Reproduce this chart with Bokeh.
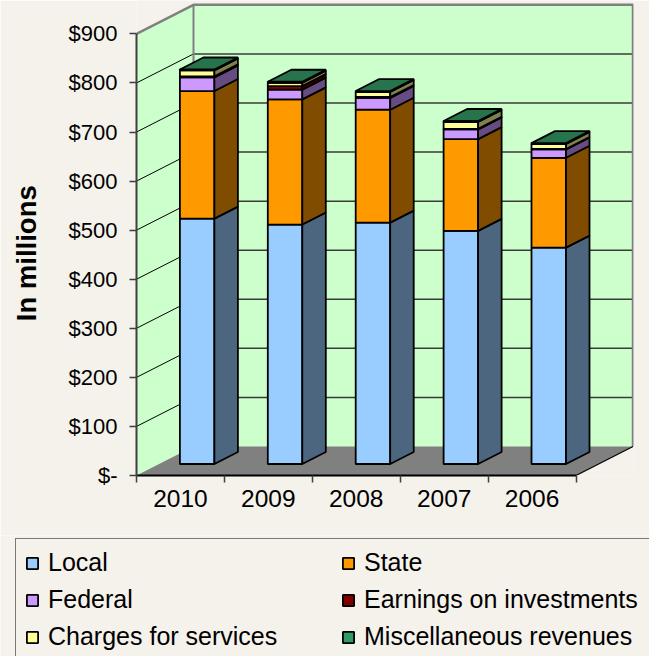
from bokeh.plotting import figure
from bokeh.models import Range1d, FixedTicker, Legend, LegendItem
from bokeh.layouts import column
from bokeh.embed import file_html
from bokeh.resources import INLINE

# ---------------- data (in millions of dollars) ----------------
years = ["2010", "2009", "2008", "2007", "2006"]
local = [500, 488, 492, 475, 441]
state = [260, 255, 230, 187, 183]
federal = [28, 20, 24, 20, 17]
earnings = [2, 7, 2, 1, 1]
charges = [12, 7, 10, 14, 10]
misc = [2, 2, 2, 2, 2]

series_names = ["Local", "State", "Federal", "Earnings on investments",
                "Charges for services", "Miscellaneous revenues"]
series_values = [local, state, federal, earnings, charges, misc]
front_colors = ["#99CCFF", "#FF9900", "#CC99FF", "#800000", "#FFFF99", "#339966"]
side_colors = ["#4C6680", "#804C00", "#664C80", "#400000", "#80804C", "#1A4C33"]
top_color = "#26734C"

y_ticks = [0, 100, 200, 300, 400, 500, 600, 700, 800, 900]
y_tick_labels = ["$-", "$100", "$200", "$300", "$400", "$500", "$600", "$700", "$800", "$900"]

# ---------------- layout constants ----------------
BG = "#F5F1EB"
FONT = "Liberation Sans"
W_TOTAL = 649
CHART_H = 535
LEGEND_AREA_H = 656 - CHART_H
PX_CAT = 87.9          # pixels per category
PX_UNIT = 0.4907       # pixels per million
FRAME_W, FRAME_H = 497, 475
FRAME_LEFT = 136
N = len(years)
YMAX = y_ticks[-1]
DX = 57 / PX_CAT       # depth offset of the walls
DY = 29 / PX_UNIT
BAR_OFF = 43.4 / PX_CAT
BAR_W = 34.5 / PX_CAT
BAR_BASE = 11.5 / PX_UNIT
BAR_DX = 23.5 / PX_CAT
BAR_DY = 12 / PX_UNIT
LW = 1.8

p = figure(width=W_TOTAL, height=CHART_H, frame_width=FRAME_W, frame_height=FRAME_H,
           x_range=Range1d(0, FRAME_W / PX_CAT), y_range=Range1d(0, FRAME_H / PX_UNIT),
           min_border_left=FRAME_LEFT, min_border_right=W_TOTAL - FRAME_LEFT - FRAME_W,
           min_border_top=0, min_border_bottom=CHART_H - FRAME_H,
           output_backend="svg", toolbar_location=None,
           background_fill_color=BG, border_fill_color=BG, outline_line_color=None)
p.xgrid.visible = False
p.ygrid.visible = False

# ---------------- walls and floor ----------------
p.patch([0, DX, DX, 0], [0, DY, YMAX + DY, YMAX], fill_color="#CCFFCC", line_color=None)
p.patch([DX, N + DX, N + DX, DX], [DY, DY, YMAX + DY, YMAX + DY], fill_color="#CCFFCC", line_color=None)
p.patch([0, N, N + DX, DX], [0, 0, DY, DY], fill_color="#808080", line_color=None)

# gridlines
grid_vals = y_ticks[1:-1]
p.segment(x0=[0] * len(grid_vals), y0=grid_vals, x1=[DX] * len(grid_vals),
          y1=[v + DY for v in grid_vals], line_color="black", line_width=1)
p.segment(x0=[DX] * len(grid_vals), y0=[v + DY for v in grid_vals],
          x1=[N + DX] * len(grid_vals), y1=[v + DY for v in grid_vals],
          line_color="#3A3A3A", line_width=1.5)
# wall edges
p.line([0, DX, N + DX, N + DX], [YMAX, YMAX + DY, YMAX + DY, DY], line_color="#808080", line_width=2.5)
p.line([DX, DX], [DY, YMAX + DY], line_color="#808080", line_width=2)
p.line([N, N + DX], [0, DY], line_color="black", line_width=1.2)

# ---------------- 3D stacked bars ----------------
cats = list(range(N))
lefts = [i + BAR_OFF for i in cats]
rights = [l + BAR_W for l in lefts]
cum = [0] * N
segments = {}
for name, vals, fc, sc in zip(series_names, series_values, front_colors, side_colors):
    bot = [BAR_BASE + c for c in cum]
    top = [BAR_BASE + c + v for c, v in zip(cum, vals)]
    segments[name] = (bot, top)
    p.quad(left=lefts, right=rights, bottom=bot, top=top,
           fill_color=fc, line_color="black", line_width=LW)
    p.patches([[x, x + BAR_DX, x + BAR_DX, x] for x in rights],
              [[b, b + BAR_DY, t + BAR_DY, t] for b, t in zip(bot, top)],
              fill_color=sc, line_color="black", line_width=LW)
    cum = [c + v for c, v in zip(cum, vals)]
tops = [BAR_BASE + c for c in cum]
p.patches([[l, r_, r_ + BAR_DX, l + BAR_DX] for l, r_ in zip(lefts, rights)],
          [[t, t, t + BAR_DY, t + BAR_DY] for t in tops],
          fill_color=top_color, line_color="black", line_width=LW)

# ---------------- axes ----------------
ya = p.yaxis[0]
ya.ticker = FixedTicker(ticks=y_ticks)
ya.major_label_overrides = {t: s for t, s in zip(y_ticks, y_tick_labels)}
ya.bounds = (0, YMAX)
ya.minor_tick_line_color = None
ya.major_tick_out = 7
ya.major_tick_in = 0
ya.major_label_standoff = 12
ya.axis_line_color = "#404040"
ya.axis_line_width = 2
ya.major_tick_line_color = "#404040"
ya.major_tick_line_width = 1.5
ya.major_label_text_font = FONT
ya.major_label_text_font_size = "22px"
ya.major_label_text_color = "black"
ya.axis_label = "In millions\u00a0\u00a0\u00a0\u00a0"
ya.axis_label_text_font = FONT
ya.axis_label_text_font_size = "27.5px"
ya.axis_label_text_font_style = "bold"
ya.axis_label_text_color = "black"
ya.axis_label_standoff = 24

xa = p.xaxis[0]
centers = [i + 0.5 for i in cats]
xa.ticker = FixedTicker(ticks=centers, minor_ticks=list(range(N + 1)))
xa.major_label_overrides = {c: y for c, y in zip(centers, years)}
xa.bounds = (0, N)
xa.major_tick_out = 0
xa.major_tick_in = 0
xa.minor_tick_out = 7
xa.minor_tick_in = 0
xa.minor_tick_line_color = "#404040"
xa.minor_tick_line_width = 1.5
xa.major_label_standoff = 7
xa.axis_line_color = "black"
xa.axis_line_width = 2
xa.major_label_text_font = FONT
xa.major_label_text_font_size = "24.5px"
xa.major_label_text_color = "black"

# ---------------- legend area (second figure, same background) ----------------
pl = figure(width=W_TOTAL, height=LEGEND_AREA_H, x_range=Range1d(0, 1), y_range=Range1d(0, 1),
            min_border=0, x_axis_type=None, y_axis_type=None,
            output_backend="svg", toolbar_location=None,
            background_fill_color=BG, border_fill_color=BG, outline_line_color=None)
pl.xgrid.visible = False
pl.ygrid.visible = False
for fig in (p, pl):
    if "frame_align" in fig.properties():
        fig.frame_align = False

# legend glyph sources: the same stacked segments (they lie outside this figure's view)
proxies = {}
for name, fc in zip(series_names, front_colors):
    bot, top = segments[name]
    proxies[name] = pl.quad(left=lefts, right=rights, bottom=bot, top=top,
                            fill_color=fc, line_color="black", line_width=LW)

PAD, SP, ROW_H, GLYPH = 9, 8, 29, 14
LEG_H = 2 * PAD + 3 * ROW_H + 2 * SP
LEG_TOP = 540 - CHART_H
VY = LEGEND_AREA_H - LEG_TOP - LEG_H
legend_order = ["Local", "Federal", "Charges for services",
                "State", "Earnings on investments", "Miscellaneous revenues"]
legend = Legend(items=[LegendItem(label=n, renderers=[proxies[n]]) for n in legend_order],
                location=(15, VY), orientation="vertical", ncols=2,
                margin=0, padding=PAD, spacing=SP,
                glyph_width=GLYPH, glyph_height=GLYPH, label_standoff=9,
                label_height=ROW_H, label_width=(340 - 15 - PAD) - GLYPH - 9 - SP - PAD + PAD,
                label_text_font=FONT, label_text_font_size="25px", label_text_color="black",
                border_line_color="black", border_line_width=1,
                background_fill_color=BG, background_fill_alpha=1)
pl.add_layout(legend)

layout = column(p, pl, spacing=0)
open("out.html", "w").write(file_html(layout, INLINE))
